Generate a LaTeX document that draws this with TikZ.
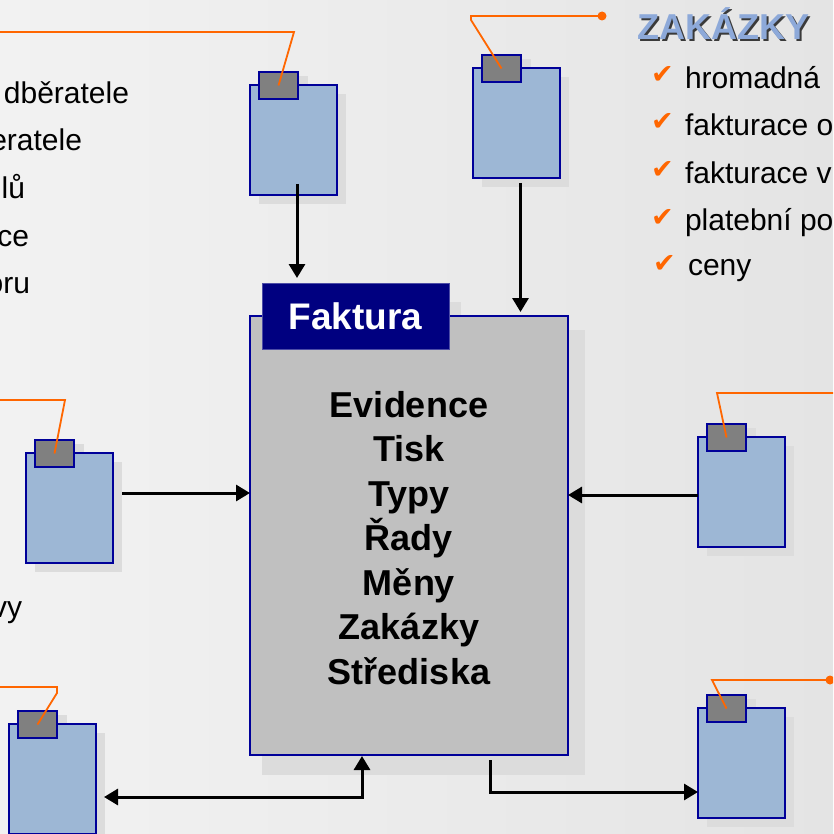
\documentclass[tikz,border=0pt]{standalone}
\usepackage{fontspec}
\setmainfont{Liberation Sans}
\newfontfamily\dejavu{DejaVu Sans}
\usetikzlibrary{arrows.meta,calc}
\definecolor{bgleft}{HTML}{F2F2F2}
\definecolor{bgright}{HTML}{E4E4E4}
\definecolor{navyb}{HTML}{000099}
\definecolor{navyh}{HTML}{000080}
\definecolor{docblue}{HTML}{9DB7D5}
\definecolor{tabgray}{HTML}{808080}
\definecolor{mainfill}{HTML}{C0C0C0}
\definecolor{shadowc}{HTML}{DCDCDC}
\definecolor{orng}{HTML}{FF6600}
\definecolor{titleblue}{HTML}{8DA9D9}
\definecolor{titleshadow}{HTML}{3A3A3A}
\pgfdeclarelayer{bglayer}
\pgfdeclarelayer{shadowlayer}
\pgfsetlayers{bglayer,shadowlayer,main}
\tikzset{
  docbody/.style={draw=navyb, line width=1.6pt, fill=docblue, minimum width=87pt, minimum height=110pt, inner sep=0pt, outer sep=0pt, anchor=north west},
  doctab/.style={draw=navyb, line width=1.6pt, fill=tabgray, minimum width=39pt, minimum height=27pt, inner sep=0pt, outer sep=0pt, anchor=north west},
  mainbox/.style={draw=navyb, line width=1.6pt, fill=mainfill, minimum width=318pt, minimum height=439pt, inner sep=0pt, outer sep=0pt, anchor=north west},
  headbox/.style={draw=navyh!70!white, line width=0.6pt, fill=navyh, minimum width=187pt, minimum height=66pt, inner sep=0pt, outer sep=0pt, anchor=north west, text=white, font=\fontsize{37}{40}\selectfont\bfseries},
  arr/.style={line width=3pt, -{Triangle[length=14pt,width=16pt]}},
  arrboth/.style={line width=3pt, {Triangle[length=14pt,width=16pt]}-{Triangle[length=14pt,width=16pt]}},
  lead/.style={draw=orng, line width=1.8pt},
  listtext/.style={font=\fontsize{30}{34}\selectfont, inner sep=0pt, outer sep=0pt},
  checkmark/.style={font=\dejavu\fontsize{27}{30}\selectfont, text=orng, inner sep=0pt, outer sep=0pt, anchor=base west},
  maintext/.style={font=\fontsize{36}{40}\selectfont\bfseries, inner sep=0pt, anchor=base},
}
\newcommand\docicon[3]{%
  \begin{pgfonlayer}{shadowlayer}
    \fill[shadowc] (#2+9,#3+9) rectangle ++(87,110);
    \fill[shadowc] (#2+19,#3-9) rectangle ++(39,27);
  \end{pgfonlayer}
  \node[docbody] (#1) at (#2,#3) {};
  \node[doctab] (t#1) at (#2+9,#3-13) {};
}
\begin{document}
\begin{tikzpicture}[x=1pt,y=-1pt]
\useasboundingbox (0,0) rectangle (833,834);
\begin{pgfonlayer}{bglayer}
  \shade[left color=bgleft, right color=bgright] (0,0) rectangle (833,834);
\end{pgfonlayer}
\clip (0,0) rectangle (833,834);

% main box with header
\begin{pgfonlayer}{shadowlayer}
  \fill[shadowc] (262,330) rectangle (585,775);
  \fill[shadowc] (274,302) rectangle (461,360);
\end{pgfonlayer}
\node[mainbox] (main) at (250,316) {};
\node[headbox] (header) at (262,283) {Faktura};
\foreach \t [count=\i] in {Evidence,Tisk,Typy,Řady,Měny,Zakázky,Střediska}
  \node[maintext] (m\i) at ($(main.north)+(0,101+44.5*\i-44.5)$) {\t};

% document icons
\docicon{b1}{250}{85}
\docicon{b2}{473}{68}
\docicon{b3}{26}{453}
\docicon{b4}{9}{724}
\docicon{b5}{698}{437}
\docicon{b6}{698}{708}

% connectors
\draw[arr] ($(b1.south)+(3.5,-11)$) -- ($(b1.south|-header.north)+(3.5,-5)$);
\draw[arr] ($(b2.south)+(4,5)$) -- ($(b2.south|-main.north)+(4,-4)$);
\draw[arr] ($(b3.east)+(9,-15)$) -- ($(b3.east-|main.west)+(0,-15)$);
\draw[arr] ($(b5.west)+(0,3)$) -- ($(b5.west-|main.east)+(0,3)$);
\draw[arr] ($(main.south)+(81,5)$) |- ($(b6.west)+(0,29)$);
\draw[arrboth] ($(b4.east)+(8,18)$) -| ($(main.south)+(-47,1)$);

% orange leader lines
\draw[lead] (tb1.center) -- ++(15.5,-53.5) -- ++(-320,0);
\draw[lead] (tb2.center) -- ++(-30.5,-48.5) -- ++(0,-4) -- ++(131,0) coordinate (d2);
\fill[orng] (d2) circle (4.5);
\draw[lead] (tb3.center) -- ++(10.5,-53.5) -- ++(-80,0);
\draw[lead] (tb4.center) -- ++(19.5,-31.5) -- ++(0,-6) -- ++(-80,0);
\draw[lead] (tb5.center) -- ++(-9.5,-44.5) -- ++(150,0);
\draw[lead] (tb6.center) -- ++(-14.5,-28.5) -- ++(118,0) coordinate (d6);
\fill[orng] (d6) circle (4.5);

% left text (cut off at the edge)
\node[listtext, anchor=base east] (lt1) at (129,104) {dběratele};
\node[listtext, anchor=base east] (lt2) at (82,151) {eratele};
\node[listtext, anchor=base east] (lt3) at (25,199) {lů};
\node[listtext, anchor=base east] (lt4) at (29,246) {ce};
\node[listtext, anchor=base east] (lt5) at (30,293) {oru};
\node[listtext, anchor=base east] (lt6) at (22,617) {vy};

% ZAKÁZKY title
\node[font=\fontsize{36}{40}\selectfont\bfseries, text=titleshadow, inner sep=0pt, anchor=base west] (zs) at (639,42) {ZAKÁZKY};
\node[font=\fontsize{36}{40}\selectfont\bfseries, text=titleblue, inner sep=0pt, anchor=base west] (zt) at (637,40) {ZAKÁZKY};

% right list
\node[checkmark] (c1) at (651,84) {✔};
\node[checkmark] (c2) at (651,131) {✔};
\node[checkmark] (c3) at (651,179) {✔};
\node[checkmark] (c4) at (651,226) {✔};
\node[checkmark] (c5) at (653,272) {✔};
\node[listtext, anchor=base west] (r1) at (685,89) {hromadná};
\node[listtext, anchor=base west] (r2) at (685,136) {fakturace o};
\node[listtext, anchor=base west] (r3) at (685,184) {fakturace v};
\node[listtext, anchor=base west] (r4) at (685,230) {platební po};
\node[listtext, anchor=base west] (r5) at (688,275) {ceny};
\end{tikzpicture}
\end{document}
